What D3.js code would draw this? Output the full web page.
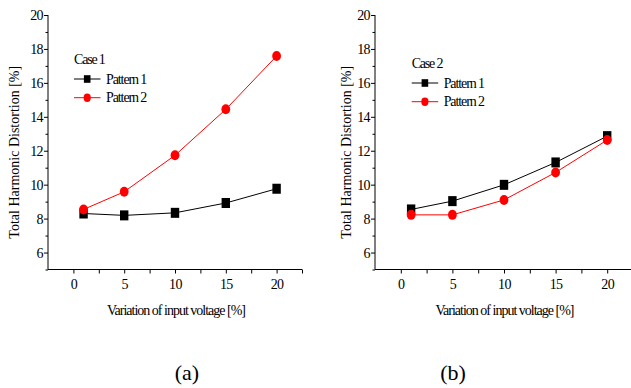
<!DOCTYPE html>
<html>
<head>
<meta charset="utf-8">
<script src="https://cdn.jsdelivr.net/npm/d3@7"></script>
<style>
  html, body { margin: 0; padding: 0; background: #fff; }
  svg { display: block; }
  text { font-family: "Liberation Serif", "Times New Roman", serif; fill: #000; }
</style>
</head>
<body>
<svg id="chart" width="631" height="388"></svg>
<script>
// Input voltage variation [%]
const voltage = [1, 5, 10, 15, 20];

// Total harmonic distortion [%], Case 1
const case1Pattern1 = [8.30, 8.19, 8.34, 8.92, 9.76];
const case1Pattern2 = [8.54, 9.58, 11.73, 14.44, 17.58];

// Total harmonic distortion [%], Case 2
const case2Pattern1 = [8.54, 9.03, 9.99, 11.31, 12.86];
const case2Pattern2 = [8.22, 8.22, 9.10, 10.72, 12.63];

const xTicks = [0, 5, 10, 15, 20];
const yTicks = [6, 8, 10, 12, 14, 16, 18, 20];

const seriesNames = ["Pattern 1", "Pattern 2"];
const seriesColors = ["#000000", "#ff0000"];

const svg = d3.select("#chart");

function drawPanel(opts) {
  const g = svg.append("g");
  const x = d3.scaleLinear().domain([-2.5, 22.5]).range([opts.left, opts.right]);
  const y = d3.scaleLinear().domain([5, 20]).range([269.5, 15]);

  // y axis: majors every 2, minors in between, ticks pointing out
  const yAxis = d3.axisLeft(y).tickValues(yTicks).tickSize(4).tickPadding(1)
    .tickFormat(d3.format("d"));
  const ya = g.append("g").attr("transform", `translate(${opts.left},0)`).call(yAxis);
  ya.select(".domain").attr("d", `M0,${y(5)}V${y(20)}`);
  ya.selectAll(".tick text").style("font-size", "14px").style("letter-spacing", "-0.6px");
  g.append("g").attr("transform", `translate(${opts.left},0)`)
    .call(d3.axisLeft(y).tickValues(d3.range(5, 20, 1).filter(v => v % 2 === 1)).tickSize(2.5).tickFormat(""))
    .select(".domain").remove();

  // x axis: majors every 5, minors at the half step
  const xAxis = d3.axisBottom(x).tickValues(xTicks).tickSize(4).tickPadding(6)
    .tickFormat(d3.format("d"));
  const xa = g.append("g").attr("transform", `translate(0,${y(5)})`).call(xAxis);
  xa.select(".domain").attr("d", `M${x(-2.5)},0H${x(22.5)}`);
  xa.selectAll(".tick text").style("font-size", "14px").style("letter-spacing", "-0.6px");
  g.append("g").attr("transform", `translate(0,${y(5)})`)
    .call(d3.axisBottom(x).tickValues([2.5, 7.5, 12.5, 17.5, 22.5]).tickSize(4).tickFormat(""))
    .select(".domain").remove();

  g.selectAll(".domain, .tick line").attr("stroke", "#000").attr("stroke-width", 1);

  // axis titles
  g.append("text")
    .attr("transform", `translate(${opts.yTitleX},${(y(5) + y(20)) / 2 + 10}) rotate(-90)`)
    .attr("text-anchor", "middle")
    .style("font-size", "14px")
    .text("Total Harmonic Distortion [%]");
  g.append("text")
    .attr("x", opts.xTitleX).attr("y", 315)
    .attr("text-anchor", "middle")
    .style("font-size", "14px").style("letter-spacing", "-1px")
    .text("Variation of input voltage [%]");
  g.append("text")
    .attr("x", opts.capX).attr("y", 380)
    .attr("text-anchor", "middle")
    .style("font-size", "22px")
    .text(opts.caption);

  // series lines and markers
  const line = d3.line().x((d, i) => x(voltage[i])).y(d => y(d));
  opts.series.forEach((vals, si) => {
    g.append("path").datum(vals)
      .attr("d", line).attr("fill", "none")
      .attr("stroke", seriesColors[si]).attr("stroke-width", 1);
  });
  opts.series.forEach((vals, si) => {
    const pts = g.selectAll(null).data(vals).enter();
    if (si === 0) {
      pts.append("rect")
        .attr("x", (d, i) => x(voltage[i]) - 4.2).attr("y", d => y(d) - 5)
        .attr("width", 8.4).attr("height", 10).attr("fill", seriesColors[si]);
    } else {
      pts.append("ellipse")
        .attr("cx", (d, i) => x(voltage[i])).attr("cy", d => y(d))
        .attr("rx", 4.4).attr("ry", 5).attr("fill", seriesColors[si]);
    }
  });

  // legend
  const lg = g.append("g");
  lg.append("text").attr("x", opts.legX).attr("y", opts.legY)
    .style("font-size", "14px").style("letter-spacing", "-1.2px").text(opts.caseLabel);
  seriesNames.forEach((name, si) => {
    const ry = opts.legY + 15 + si * 18.7;
    lg.append("line").attr("x1", opts.legX).attr("x2", opts.legX + 26.5)
      .attr("y1", ry).attr("y2", ry).attr("stroke", seriesColors[si]).attr("stroke-width", 1);
    if (si === 0) {
      lg.append("rect").attr("x", opts.legX + 13.2 - 3.3).attr("y", ry - 3.8)
        .attr("width", 6.6).attr("height", 7.6).attr("fill", seriesColors[si]);
    } else {
      lg.append("ellipse").attr("cx", opts.legX + 13.2).attr("cy", ry)
        .attr("rx", 3.6).attr("ry", 4.2).attr("fill", seriesColors[si]);
    }
    lg.append("text").attr("x", opts.legX + 32).attr("y", ry + 4.5)
      .style("font-size", "14px").style("letter-spacing", "-1.1px").text(name);
  });
}

drawPanel({
  left: 48, right: 302, yTitleX: 19, xTitleX: 176, capX: 187, caption: "(a)",
  legX: 74, legY: 64, caseLabel: "Case 1",
  series: [case1Pattern1, case1Pattern2]
});
drawPanel({
  left: 375, right: 633, yTitleX: 351, xTitleX: 504.5, capX: 453, caption: "(b)",
  legX: 411.7, legY: 68, caseLabel: "Case 2",
  series: [case2Pattern1, case2Pattern2]
});
</script>
</body>
</html>
